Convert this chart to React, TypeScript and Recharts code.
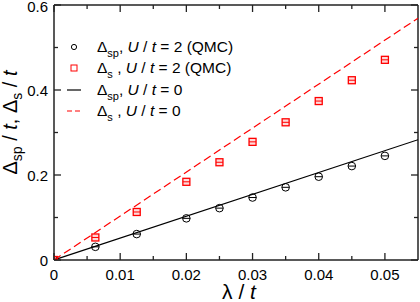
import { ScatterChart, Scatter, XAxis, YAxis, Legend } from "recharts";

// QMC data points (U/t = 2)
const lambda = [0, 0.00625, 0.0125, 0.02, 0.025, 0.03, 0.035, 0.04, 0.045, 0.05];
const spQmc = [0, 0.031, 0.061, 0.098, 0.122, 0.147, 0.171, 0.196, 0.221, 0.245];
const sQmc = [0, 0.053, 0.113, 0.184, 0.23, 0.278, 0.324, 0.374, 0.423, 0.471];

// non-interacting lines (U/t = 0)
const lineLambda = [0, 0.055];
const spFree = [0, 0.283];
const sFree = [0, 0.569];

const xTicks = [0, 0.005, 0.01, 0.015, 0.02, 0.025, 0.03, 0.035, 0.04, 0.045, 0.05];
const yTicks = [0, 0.1, 0.2, 0.3, 0.4, 0.5, 0.6];

const FONT = "'Liberation Sans', Arial, Helvetica, sans-serif";
const AXIS = "#222";
const RED = "#ff0000";

const toPts = (xs: number[], ys: number[]) => xs.map((x, i) => ({ x, y: ys[i] }));

const isMajor = (v: number, step: number) => Math.abs(v / step - Math.round(v / step)) < 1e-6;
const fmt = (v: number) => (v === 0 ? "0" : String(+v.toFixed(3)));

function BottomTick({ x, y, payload }: any) {
  const major = isMajor(payload.value, 0.01);
  return (
    <g>
      <line x1={x} x2={x} y1={y} y2={y - (major ? 7 : 4)} stroke={AXIS} strokeWidth={1.3} />
      {major && (
        <text x={x} y={y + 20} textAnchor="middle" fontSize={15} fontFamily={FONT} fill="#000">
          {fmt(payload.value)}
        </text>
      )}
    </g>
  );
}

function TopTick({ x, y, payload }: any) {
  const major = isMajor(payload.value, 0.01);
  return <line x1={x} x2={x} y1={y} y2={y + (major ? 7 : 4)} stroke={AXIS} strokeWidth={1.3} />;
}

function LeftTick({ x, y, payload }: any) {
  const major = isMajor(payload.value, 0.2);
  return (
    <g>
      <line x1={x} x2={x + (major ? 7 : 4)} y1={y} y2={y} stroke={AXIS} strokeWidth={1.3} />
      {major && (
        <text x={x - 6} y={Math.max(y + 5.5, 12)} textAnchor="end" fontSize={15} fontFamily={FONT} fill="#000">
          {fmt(payload.value)}
        </text>
      )}
    </g>
  );
}

function RightTick({ x, y, payload }: any) {
  const major = isMajor(payload.value, 0.2);
  return <line x1={x} x2={x - (major ? 7 : 4)} y1={y} y2={y} stroke={AXIS} strokeWidth={1.3} />;
}

function CircleMark({ cx, cy }: any) {
  return (
    <g>
      <circle cx={cx} cy={cy} r={3.8} fill="none" stroke="#000" strokeWidth={1} />
      <line x1={cx - 3.8} x2={cx + 3.8} y1={cy} y2={cy} stroke="#000" strokeWidth={1} />
    </g>
  );
}

function SquareMark({ cx, cy }: any) {
  return (
    <g>
      <rect x={cx - 3.5} y={cy - 3.5} width={7} height={7} fill="rgba(255,0,0,0.15)" stroke={RED} strokeWidth={1.3} />
      <line x1={cx - 3.5} x2={cx + 3.5} y1={cy} y2={cy} stroke={RED} strokeWidth={1} />
    </g>
  );
}

const NoMark = () => <g />;

const legendRows = [
  { icon: "circle", sub: "sp", rest: "2 (QMC)" },
  { icon: "square", sub: "s", rest: "2 (QMC)" },
  { icon: "solid", sub: "sp", rest: "0" },
  { icon: "dashed", sub: "s", rest: "0" },
];

function LegendIcon({ kind }: { kind: string }) {
  return (
    <svg width={16} height={10} style={{ display: "block" }}>
      {kind === "circle" && <circle cx={8} cy={5} r={2.6} fill="none" stroke="#000" strokeWidth={1} />}
      {kind === "square" && <rect x={5} y={2} width={6} height={6} fill="none" stroke={RED} strokeWidth={1} />}
      {kind === "solid" && <line x1={1} x2={15} y1={5} y2={5} stroke="#000" strokeWidth={1.2} />}
      {kind === "dashed" && <line x1={1} x2={15} y1={5} y2={5} stroke={RED} strokeWidth={1.2} strokeDasharray="5 3" />}
    </svg>
  );
}

function LegendBox() {
  return (
    <div style={{ fontFamily: FONT, fontSize: 15.5, color: "#000" }}>
      {legendRows.map((r, i) => (
        <div key={i} style={{ display: "flex", alignItems: "center", height: 21.5, whiteSpace: "nowrap" }}>
          <LegendIcon kind={r.icon} />
          <span style={{ marginLeft: 15 }}>
            Δ
            <span style={{ fontSize: 11, verticalAlign: "-0.45em", lineHeight: 0 }}>{r.sub}</span>
            {r.sub === "s" ? " " : ""}, <i>U</i> / <i>t</i> = {r.rest}
          </span>
        </div>
      ))}
    </div>
  );
}

function YTitle({ viewBox }: any) {
  const cx = viewBox.x + 17;
  const cy = viewBox.y + viewBox.height / 2 - 10;
  return (
    <text transform={`translate(${cx},${cy}) rotate(-90)`} textAnchor="middle" fontSize={20} fontFamily={FONT} fill="#000">
      Δ<tspan fontSize={14} dy={5}>sp</tspan>
      <tspan dy={-5}> / </tspan>
      <tspan fontStyle="italic">t</tspan>, Δ<tspan fontSize={14} dy={5}>s</tspan>
      <tspan dy={-5}> / </tspan>
      <tspan fontStyle="italic">t</tspan>
    </text>
  );
}

function XTitle({ viewBox }: any) {
  const cx = viewBox.x + viewBox.width / 2 + 3;
  const cy = viewBox.y + 39;
  return (
    <text x={cx} y={cy} textAnchor="middle" fontSize={21} fontFamily={FONT} fill="#000">
      λ / <tspan fontStyle="italic">t</tspan>
    </text>
  );
}

export default function App() {
  const axisLine = { stroke: AXIS, strokeWidth: 1.5 };
  return (
    <div style={{ position: "absolute", left: 0, top: 0, background: "#fff" }}>
      <ScatterChart width={420} height={302} margin={{ top: 5, right: 2, bottom: 0, left: 0 }}>
        <XAxis
          type="number"
          dataKey="x"
          domain={[0, 0.055]}
          allowDataOverflow
          ticks={xTicks}
          interval={0}
          tickSize={0}
          tickMargin={0}
          tickLine={false}
          axisLine={axisLine}
          tick={BottomTick}
          height={42}
          label={{ content: XTitle }}
        />
        <XAxis
          xAxisId="top"
          orientation="top"
          mirror
          type="number"
          dataKey="x"
          domain={[0, 0.055]}
          allowDataOverflow
          ticks={xTicks}
          interval={0}
          tickSize={0}
          tickMargin={0}
          tickLine={false}
          axisLine={axisLine}
          tick={TopTick}
        />
        <YAxis
          type="number"
          dataKey="y"
          domain={[0, 0.6]}
          allowDataOverflow
          ticks={yTicks}
          interval={0}
          tickSize={0}
          tickMargin={0}
          tickLine={false}
          axisLine={axisLine}
          tick={LeftTick}
          width={54}
          label={{ content: YTitle }}
        />
        <YAxis
          yAxisId="right"
          orientation="right"
          mirror
          type="number"
          dataKey="y"
          domain={[0, 0.6]}
          allowDataOverflow
          ticks={yTicks}
          interval={0}
          tickSize={0}
          tickMargin={0}
          tickLine={false}
          axisLine={axisLine}
          tick={RightTick}
        />
        <Scatter
          data={toPts(lineLambda, spFree)}
          line={{ stroke: "#000", strokeWidth: 1.2 }}
          shape={NoMark}
          legendType="none"
          isAnimationActive={false}
        />
        <Scatter
          data={toPts(lineLambda, sFree)}
          line={{ stroke: RED, strokeWidth: 1.2, strokeDasharray: "8 4" }}
          shape={NoMark}
          legendType="none"
          isAnimationActive={false}
        />
        <Scatter data={toPts(lambda, spQmc)} shape={CircleMark} legendType="none" isAnimationActive={false} />
        <Scatter data={toPts(lambda, sQmc)} shape={SquareMark} legendType="none" isAnimationActive={false} />
        <Legend
          layout="vertical"
          align="center"
          verticalAlign="middle"
          content={LegendBox}
          wrapperStyle={{ left: 66, top: 36, width: "auto" }}
        />
      </ScatterChart>
    </div>
  );
}
